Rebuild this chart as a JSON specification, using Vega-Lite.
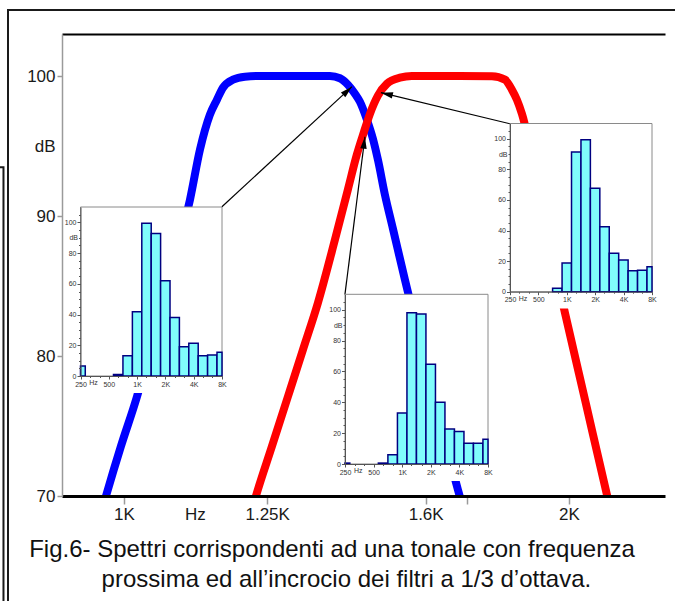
{
  "$schema": "https://vega.github.io/schema/vega-lite/v6.json",
  "width": 603,
  "height": 462,
  "autosize": {"type": "none"},
  "padding": {"left": 62, "top": 34, "right": 10, "bottom": 105},
  "background": "white",
  "config": {"view": {"stroke": null}, "axis": {"grid": false}},
  "datasets": {
    "curves": [
      {"band": "1.25K", "f": 966.3, "dB": 69.0},
      {"band": "1.25K", "f": 972.4, "dB": 70.0},
      {"band": "1.25K", "f": 995.3, "dB": 73.55},
      {"band": "1.25K", "f": 1020.5, "dB": 77.1},
      {"band": "1.25K", "f": 1041.3, "dB": 80.45},
      {"band": "1.25K", "f": 1062.6, "dB": 84.0},
      {"band": "1.25K", "f": 1086.1, "dB": 87.6},
      {"band": "1.25K", "f": 1108.3, "dB": 91.16},
      {"band": "1.25K", "f": 1125.7, "dB": 94.74},
      {"band": "1.25K", "f": 1143.3, "dB": 97.24},
      {"band": "1.25K", "f": 1155.9, "dB": 98.31},
      {"band": "1.25K", "f": 1166.7, "dB": 99.16},
      {"band": "1.25K", "f": 1185.1, "dB": 99.74},
      {"band": "1.25K", "f": 1207.4, "dB": 99.95},
      {"band": "1.25K", "f": 1236.0, "dB": 100.0},
      {"band": "1.25K", "f": 1378.3, "dB": 100.0},
      {"band": "1.25K", "f": 1400.0, "dB": 99.84},
      {"band": "1.25K", "f": 1417.5, "dB": 99.38},
      {"band": "1.25K", "f": 1433.1, "dB": 98.74},
      {"band": "1.25K", "f": 1444.3, "dB": 98.16},
      {"band": "1.25K", "f": 1460.1, "dB": 96.88},
      {"band": "1.25K", "f": 1473.8, "dB": 95.52},
      {"band": "1.25K", "f": 1485.3, "dB": 94.02},
      {"band": "1.25K", "f": 1501.6, "dB": 91.52},
      {"band": "1.25K", "f": 1520.5, "dB": 89.09},
      {"band": "1.25K", "f": 1549.1, "dB": 85.45},
      {"band": "1.25K", "f": 1610.7, "dB": 78.31},
      {"band": "1.25K", "f": 1682.5, "dB": 70.45},
      {"band": "1.25K", "f": 1695.6, "dB": 69.16},
      {"band": "1.6K", "f": 1220.6, "dB": 69.0},
      {"band": "1.6K", "f": 1228.3, "dB": 70.0},
      {"band": "1.6K", "f": 1259.3, "dB": 73.55},
      {"band": "1.6K", "f": 1291.0, "dB": 77.1},
      {"band": "1.6K", "f": 1321.6, "dB": 80.45},
      {"band": "1.6K", "f": 1352.8, "dB": 83.8},
      {"band": "1.6K", "f": 1389.1, "dB": 88.3},
      {"band": "1.6K", "f": 1417.5, "dB": 91.9},
      {"band": "1.6K", "f": 1437.5, "dB": 94.4},
      {"band": "1.6K", "f": 1453.3, "dB": 96.0},
      {"band": "1.6K", "f": 1467.0, "dB": 97.3},
      {"band": "1.6K", "f": 1485.3, "dB": 98.6},
      {"band": "1.6K", "f": 1506.3, "dB": 99.45},
      {"band": "1.6K", "f": 1537.1, "dB": 99.88},
      {"band": "1.6K", "f": 1566.1, "dB": 100.0},
      {"band": "1.6K", "f": 1687.7, "dB": 100.0},
      {"band": "1.6K", "f": 1774.0, "dB": 99.98},
      {"band": "1.6K", "f": 1810.3, "dB": 99.74},
      {"band": "1.6K", "f": 1830.1, "dB": 99.02},
      {"band": "1.6K", "f": 1844.4, "dB": 98.3},
      {"band": "1.6K", "f": 1858.8, "dB": 97.3},
      {"band": "1.6K", "f": 1920.7, "dB": 90.2},
      {"band": "1.6K", "f": 1987.6, "dB": 83.1},
      {"band": "1.6K", "f": 2053.7, "dB": 76.6},
      {"band": "1.6K", "f": 2122.0, "dB": 70.1},
      {"band": "1.6K", "f": 2131.9, "dB": 69.2}
    ],
    "arrows": [
      {"id": "a", "f0": 1164.9, "dB0": 90.66, "f1": 1426.4, "dB1": 99.24},
      {"id": "b", "f0": 1410.9, "dB0": 84.38, "f1": 1455.6, "dB1": 95.66},
      {"id": "c", "f0": 1824.4, "dB0": 96.59, "f1": 1492.3, "dB1": 98.81}
    ],
    "spectra": [
      {"spectrum": "a", "f": 250, "lo": 223, "hi": 281, "dB": 6.5},
      {"spectrum": "a", "f": 630, "lo": 561, "hi": 707, "dB": 1.0},
      {"spectrum": "a", "f": 800, "lo": 707, "hi": 891, "dB": 13.2},
      {"spectrum": "a", "f": 1000, "lo": 891, "hi": 1122, "dB": 41.8},
      {"spectrum": "a", "f": 1250, "lo": 1122, "hi": 1413, "dB": 99.5},
      {"spectrum": "a", "f": 1600, "lo": 1413, "hi": 1778, "dB": 92.8},
      {"spectrum": "a", "f": 2000, "lo": 1778, "hi": 2239, "dB": 62.0},
      {"spectrum": "a", "f": 2500, "lo": 2239, "hi": 2818, "dB": 38.0},
      {"spectrum": "a", "f": 3150, "lo": 2818, "hi": 3548, "dB": 19.1},
      {"spectrum": "a", "f": 4000, "lo": 3548, "hi": 4467, "dB": 21.3},
      {"spectrum": "a", "f": 5000, "lo": 4467, "hi": 5623, "dB": 13.2},
      {"spectrum": "a", "f": 6300, "lo": 5623, "hi": 7079, "dB": 13.7},
      {"spectrum": "a", "f": 8000, "lo": 7079, "hi": 8913, "dB": 15.4},
      {"spectrum": "b", "f": 250, "lo": 223, "hi": 281, "dB": 0.6},
      {"spectrum": "b", "f": 630, "lo": 561, "hi": 707, "dB": 0.6},
      {"spectrum": "b", "f": 800, "lo": 707, "hi": 891, "dB": 6.0},
      {"spectrum": "b", "f": 1000, "lo": 891, "hi": 1122, "dB": 33.0},
      {"spectrum": "b", "f": 1250, "lo": 1122, "hi": 1413, "dB": 98.0},
      {"spectrum": "b", "f": 1600, "lo": 1413, "hi": 1778, "dB": 97.2},
      {"spectrum": "b", "f": 2000, "lo": 1778, "hi": 2239, "dB": 64.7},
      {"spectrum": "b", "f": 2500, "lo": 2239, "hi": 2818, "dB": 40.0},
      {"spectrum": "b", "f": 3150, "lo": 2818, "hi": 3548, "dB": 22.7},
      {"spectrum": "b", "f": 4000, "lo": 3548, "hi": 4467, "dB": 21.0},
      {"spectrum": "b", "f": 5000, "lo": 4467, "hi": 5623, "dB": 13.4},
      {"spectrum": "b", "f": 6300, "lo": 5623, "hi": 7079, "dB": 13.4},
      {"spectrum": "b", "f": 8000, "lo": 7079, "hi": 8913, "dB": 16.0},
      {"spectrum": "c", "f": 800, "lo": 707, "hi": 891, "dB": 2.2},
      {"spectrum": "c", "f": 1000, "lo": 891, "hi": 1122, "dB": 18.7},
      {"spectrum": "c", "f": 1250, "lo": 1122, "hi": 1413, "dB": 91.3},
      {"spectrum": "c", "f": 1600, "lo": 1413, "hi": 1778, "dB": 99.3},
      {"spectrum": "c", "f": 2000, "lo": 1778, "hi": 2239, "dB": 67.6},
      {"spectrum": "c", "f": 2500, "lo": 2239, "hi": 2818, "dB": 42.4},
      {"spectrum": "c", "f": 3150, "lo": 2818, "hi": 3548, "dB": 25.2},
      {"spectrum": "c", "f": 4000, "lo": 3548, "hi": 4467, "dB": 20.7},
      {"spectrum": "c", "f": 5000, "lo": 4467, "hi": 5623, "dB": 13.7},
      {"spectrum": "c", "f": 6300, "lo": 5623, "hi": 7079, "dB": 14.1},
      {"spectrum": "c", "f": 8000, "lo": 7079, "hi": 8913, "dB": 16.3}
    ]
  },
  "layer": [
    {
      "data": {"values": [{}]},
      "layer": [
        {
          "mark": {"type": "rect", "filled": false, "stroke": "#1a1a1a", "strokeWidth": 2},
          "encoding": {
            "x": {"datum": 0, "type": "quantitative", "scale": {"domain": [0, 100], "range": [-54, 620]}, "axis": null},
            "x2": {"datum": 100},
            "y": {"datum": 0, "type": "quantitative", "scale": {"domain": [0, 100], "range": [-24, 576]}, "axis": null},
            "y2": {"datum": 100}
          }
        },
        {
          "mark": {"type": "rect", "filled": false, "stroke": "#1a1a1a", "strokeWidth": 2},
          "encoding": {
            "x": {"datum": -1.5, "type": "quantitative", "scale": {"domain": [0, 100], "range": [-54, 620]}, "axis": null},
            "x2": {"datum": -0.67},
            "y": {"datum": 26.2, "type": "quantitative", "scale": {"domain": [0, 100], "range": [-24, 576]}, "axis": null},
            "y2": {"datum": 100}
          }
        }
      ],
      "resolve": {"axis": {"x": "independent", "y": "independent"}}
    },
    {
      "layer": [
        {
          "data": {"name": "curves"},
          "transform": [{"filter": "datum.band == '1.25K'"}],
          "mark": {"type": "line", "color": "#0000ff", "strokeWidth": 8, "interpolate": "monotone", "clip": true},
          "encoding": {
            "x": {
              "field": "f", "type": "quantitative",
              "scale": {"type": "log", "domain": [908, 2323]},
              "axis": {
                "orient": "bottom", "zindex": 1,
                "values": [1000, 1117, 1250, 1600, 1706, 2000],
                "labelExpr": "datum.value == 1000 ? '1K' : datum.value == 1117 ? 'Hz' : datum.value == 1250 ? '1.25K' : datum.value == 1600 ? '1.6K' : datum.value == 2000 ? '2K' : ''",
                "tickOpacity": {"condition": {"test": "datum.value == 1117", "value": 0}, "value": 1},
                "labelFlush": false, "labelOverlap": false,
                "domainColor": "#000000", "domainWidth": 3,
                "tickColor": "#9a9a9a", "tickWidth": 1.5, "tickSize": 8,
                "labelFont": "Liberation Sans", "labelFontSize": 17, "labelColor": "#1a1a1a", "labelPadding": 2,
                "title": "Fig.6- Spettri corrispondenti ad una tonale con frequenza",
                "titleX": 269.5, "titleY": 60.7, "titleAlign": "center", "titleBaseline": "alphabetic",
                "titleFont": "Liberation Sans", "titleFontSize": 24, "titleFontWeight": "normal", "titleColor": "#111111"
              }
            },
            "y": {
              "field": "dB", "type": "quantitative",
              "scale": {"domain": [70, 103]},
              "axis": {
                "orient": "left", "zindex": 1,
                "values": [70, 80, 90, 95, 100],
                "labelExpr": "datum.value == 95 ? 'dB' : datum.label",
                "tickOpacity": {"condition": {"test": "datum.value == 95", "value": 0}, "value": 1},
                "domainColor": "#9a9a9a", "domainWidth": 1.5,
                "tickColor": "#9a9a9a", "tickWidth": 1.5, "tickSize": 5,
                "labelFont": "Liberation Sans", "labelFontSize": 17, "labelColor": "#1a1a1a", "labelPadding": 2,
                "title": null
              }
            }
          }
        },
        {
          "data": {"name": "curves"},
          "transform": [{"filter": "datum.band == '1.6K'"}],
          "mark": {"type": "line", "color": "#ff0000", "strokeWidth": 8, "interpolate": "monotone", "clip": true},
          "encoding": {
            "x": {"field": "f", "type": "quantitative", "scale": {"type": "log", "domain": [908, 2323]}, "axis": null},
            "y": {"field": "dB", "type": "quantitative", "scale": {"domain": [70, 103]}, "axis": null}
          }
        },
        {
          "data": {"name": "arrows"},
          "mark": {"type": "rule", "color": "#000000", "strokeWidth": 1.2},
          "encoding": {
            "x": {
              "field": "f0", "type": "quantitative",
              "scale": {"type": "log", "domain": [908, 2323]},
              "axis": {
                "orient": "top", "zindex": 1, "ticks": false, "labels": false,
                "domainColor": "#000000", "domainWidth": 2,
                "title": "prossima ed all’incrocio dei filtri a 1/3 d’ottava.",
                "titleX": 283.9, "titleY": 552, "titleAlign": "center", "titleBaseline": "alphabetic",
                "titleFont": "Liberation Sans", "titleFontSize": 24, "titleFontWeight": "normal", "titleColor": "#111111"
              }
            },
            "x2": {"field": "f1"},
            "y": {"field": "dB0", "type": "quantitative", "scale": {"domain": [70, 103]}, "axis": null},
            "y2": {"field": "dB1"}
          }
        },
        {
          "data": {"name": "arrows"},
          "transform": [{"filter": "datum.id == 'a'"}],
          "mark": {"type": "point", "shape": "M0,0L-0.27,1L0.27,1Z", "filled": true, "color": "#000000", "opacity": 1, "size": 576, "angle": 47.3, "strokeWidth": 0},
          "encoding": {
            "x": {"field": "f1", "type": "quantitative", "scale": {"type": "log", "domain": [908, 2323]}, "axis": null},
            "y": {"field": "dB1", "type": "quantitative", "scale": {"domain": [70, 103]}, "axis": null}
          }
        },
        {
          "data": {"name": "arrows"},
          "transform": [{"filter": "datum.id == 'b'"}],
          "mark": {"type": "point", "shape": "M0,0L-0.27,1L0.27,1Z", "filled": true, "color": "#000000", "opacity": 1, "size": 576, "angle": 7.2, "strokeWidth": 0},
          "encoding": {
            "x": {"field": "f1", "type": "quantitative", "scale": {"type": "log", "domain": [908, 2323]}, "axis": null},
            "y": {"field": "dB1", "type": "quantitative", "scale": {"domain": [70, 103]}, "axis": null}
          }
        },
        {
          "data": {"name": "arrows"},
          "transform": [{"filter": "datum.id == 'c'"}],
          "mark": {"type": "point", "shape": "M0,0L-0.27,1L0.27,1Z", "filled": true, "color": "#000000", "opacity": 1, "size": 576, "angle": 283.5, "strokeWidth": 0},
          "encoding": {
            "x": {"field": "f1", "type": "quantitative", "scale": {"type": "log", "domain": [908, 2323]}, "axis": null},
            "y": {"field": "dB1", "type": "quantitative", "scale": {"domain": [70, 103]}, "axis": null}
          }
        }
      ],
      "resolve": {"axis": {"x": "independent", "y": "independent"}}
    },
    {
      "layer": [
        {
          "data": {"values": [{}]},
          "mark": {"type": "rect", "fill": "#ffffff", "strokeWidth": 0},
          "encoding": {
            "x": {"datum": 250, "type": "quantitative", "scale": {"type": "log", "domain": [250, 8000], "range": [18.5, 160], "clamp": true}, "axis": null},
            "x2": {"datum": 8000},
            "y": {"datum": -11, "type": "quantitative", "scale": {"domain": [0, 110], "range": [342, 173]}, "axis": null},
            "y2": {"datum": 110}
          }
        },
        {
          "data": {"values": [{}]},
          "mark": {"type": "rect", "filled": false, "stroke": "#8a8a8a", "strokeWidth": 1},
          "encoding": {
            "x": {"datum": 250, "type": "quantitative", "scale": {"type": "log", "domain": [250, 8000], "range": [18.5, 160], "clamp": true}, "axis": null},
            "x2": {"datum": 8000},
            "y": {"datum": 0, "type": "quantitative", "scale": {"domain": [0, 110], "range": [342, 173]}, "axis": null},
            "y2": {"datum": 110}
          }
        },
        {
          "data": {"name": "spectra"},
          "transform": [{"filter": "datum.spectrum == 'a'"}],
          "mark": {"type": "rect", "fill": "#80fcfc", "stroke": "#000080", "strokeWidth": 1.5},
          "encoding": {
            "x": {
              "field": "lo", "type": "quantitative",
              "scale": {"type": "log", "domain": [250, 8000], "range": [18.5, 160], "clamp": true},
              "axis": {
                "orient": "bottom", "offset": -120, "zindex": 1,
                "values": [250, 315, 340, 400, 500, 630, 800, 1000, 1250, 1600, 2000, 2500, 3150, 4000, 5000, 6300, 8000],
                "labelExpr": "datum.value == 250 ? '250' : datum.value == 340 ? 'Hz' : datum.value == 500 ? '500' : datum.value == 1000 ? '1K' : datum.value == 2000 ? '2K' : datum.value == 4000 ? '4K' : datum.value == 8000 ? '8K' : ''",
                "tickSize": {"condition": {"test": "indexof([250, 500, 1000, 2000, 4000, 8000], datum.value) >= 0", "value": 3}, "value": 1.5},
                "tickOpacity": {"condition": {"test": "datum.value == 340", "value": 0}, "value": 1},
                "labelFlush": false, "labelOverlap": false,
                "domainColor": "#555555", "tickColor": "#555555",
                "labelFont": "Liberation Sans", "labelFontSize": 7, "labelColor": "#333333", "labelPadding": 1,
                "title": null
              }
            },
            "x2": {"field": "hi"},
            "y": {
              "field": "dB", "type": "quantitative",
              "scale": {"domain": [0, 110], "range": [342, 173]},
              "axis": {
                "orient": "left", "offset": -18.5, "zindex": 1,
                "values": [0, 5, 10, 15, 20, 25, 30, 35, 40, 45, 50, 55, 60, 65, 70, 75, 80, 85, 90, 95, 100, 105],
                "labelExpr": "datum.value == 90 ? 'dB' : datum.value % 20 == 0 ? datum.label : ''",
                "tickSize": {"condition": {"test": "datum.value % 20 == 0", "value": 3.5}, "value": 2},
                "labelOverlap": false,
                "domainColor": "#555555", "tickColor": "#555555",
                "labelFont": "Liberation Sans", "labelFontSize": 7, "labelColor": "#333333", "labelPadding": 1,
                "title": null
              }
            },
            "y2": {"datum": 0}
          }
        }
      ],
      "resolve": {"axis": {"x": "independent", "y": "independent"}}
    },
    {
      "layer": [
        {
          "data": {"values": [{}]},
          "mark": {"type": "rect", "fill": "#ffffff", "strokeWidth": 0},
          "encoding": {
            "x": {"datum": 250, "type": "quantitative", "scale": {"type": "log", "domain": [250, 8000], "range": [283, 426], "clamp": true}, "axis": null},
            "x2": {"datum": 8000},
            "y": {"datum": -11, "type": "quantitative", "scale": {"domain": [0, 110], "range": [430, 260.3]}, "axis": null},
            "y2": {"datum": 110}
          }
        },
        {
          "data": {"values": [{}]},
          "mark": {"type": "rect", "filled": false, "stroke": "#8a8a8a", "strokeWidth": 1},
          "encoding": {
            "x": {"datum": 250, "type": "quantitative", "scale": {"type": "log", "domain": [250, 8000], "range": [283, 426], "clamp": true}, "axis": null},
            "x2": {"datum": 8000},
            "y": {"datum": 0, "type": "quantitative", "scale": {"domain": [0, 110], "range": [430, 260.3]}, "axis": null},
            "y2": {"datum": 110}
          }
        },
        {
          "data": {"name": "spectra"},
          "transform": [{"filter": "datum.spectrum == 'b'"}],
          "mark": {"type": "rect", "fill": "#80fcfc", "stroke": "#000080", "strokeWidth": 1.5},
          "encoding": {
            "x": {
              "field": "lo", "type": "quantitative",
              "scale": {"type": "log", "domain": [250, 8000], "range": [283, 426], "clamp": true},
              "axis": {
                "orient": "bottom", "offset": -32, "zindex": 1,
                "values": [250, 315, 340, 400, 500, 630, 800, 1000, 1250, 1600, 2000, 2500, 3150, 4000, 5000, 6300, 8000],
                "labelExpr": "datum.value == 250 ? '250' : datum.value == 340 ? 'Hz' : datum.value == 500 ? '500' : datum.value == 1000 ? '1K' : datum.value == 2000 ? '2K' : datum.value == 4000 ? '4K' : datum.value == 8000 ? '8K' : ''",
                "tickSize": {"condition": {"test": "indexof([250, 500, 1000, 2000, 4000, 8000], datum.value) >= 0", "value": 3}, "value": 1.5},
                "tickOpacity": {"condition": {"test": "datum.value == 340", "value": 0}, "value": 1},
                "labelFlush": false, "labelOverlap": false,
                "domainColor": "#555555", "tickColor": "#555555",
                "labelFont": "Liberation Sans", "labelFontSize": 7, "labelColor": "#333333", "labelPadding": 1,
                "title": null
              }
            },
            "x2": {"field": "hi"},
            "y": {
              "field": "dB", "type": "quantitative",
              "scale": {"domain": [0, 110], "range": [430, 260.3]},
              "axis": {
                "orient": "left", "offset": -283, "zindex": 1,
                "values": [0, 5, 10, 15, 20, 25, 30, 35, 40, 45, 50, 55, 60, 65, 70, 75, 80, 85, 90, 95, 100, 105],
                "labelExpr": "datum.value == 90 ? 'dB' : datum.value % 20 == 0 ? datum.label : ''",
                "tickSize": {"condition": {"test": "datum.value % 20 == 0", "value": 3.5}, "value": 2},
                "labelOverlap": false,
                "domainColor": "#555555", "tickColor": "#555555",
                "labelFont": "Liberation Sans", "labelFontSize": 7, "labelColor": "#333333", "labelPadding": 1,
                "title": null
              }
            },
            "y2": {"datum": 0}
          }
        }
      ],
      "resolve": {"axis": {"x": "independent", "y": "independent"}}
    },
    {
      "layer": [
        {
          "data": {"values": [{}]},
          "mark": {"type": "rect", "fill": "#ffffff", "strokeWidth": 0},
          "encoding": {
            "x": {"datum": 250, "type": "quantitative", "scale": {"type": "log", "domain": [250, 8000], "range": [448, 590], "clamp": true}, "axis": null},
            "x2": {"datum": 8000},
            "y": {"datum": -11, "type": "quantitative", "scale": {"domain": [0, 110], "range": [257.7, 89.5]}, "axis": null},
            "y2": {"datum": 110}
          }
        },
        {
          "data": {"values": [{}]},
          "mark": {"type": "rect", "filled": false, "stroke": "#8a8a8a", "strokeWidth": 1},
          "encoding": {
            "x": {"datum": 250, "type": "quantitative", "scale": {"type": "log", "domain": [250, 8000], "range": [448, 590], "clamp": true}, "axis": null},
            "x2": {"datum": 8000},
            "y": {"datum": 0, "type": "quantitative", "scale": {"domain": [0, 110], "range": [257.7, 89.5]}, "axis": null},
            "y2": {"datum": 110}
          }
        },
        {
          "data": {"name": "spectra"},
          "transform": [{"filter": "datum.spectrum == 'c'"}],
          "mark": {"type": "rect", "fill": "#80fcfc", "stroke": "#000080", "strokeWidth": 1.5},
          "encoding": {
            "x": {
              "field": "lo", "type": "quantitative",
              "scale": {"type": "log", "domain": [250, 8000], "range": [448, 590], "clamp": true},
              "axis": {
                "orient": "bottom", "offset": -204.3, "zindex": 1,
                "values": [250, 315, 340, 400, 500, 630, 800, 1000, 1250, 1600, 2000, 2500, 3150, 4000, 5000, 6300, 8000],
                "labelExpr": "datum.value == 250 ? '250' : datum.value == 340 ? 'Hz' : datum.value == 500 ? '500' : datum.value == 1000 ? '1K' : datum.value == 2000 ? '2K' : datum.value == 4000 ? '4K' : datum.value == 8000 ? '8K' : ''",
                "tickSize": {"condition": {"test": "indexof([250, 500, 1000, 2000, 4000, 8000], datum.value) >= 0", "value": 3}, "value": 1.5},
                "tickOpacity": {"condition": {"test": "datum.value == 340", "value": 0}, "value": 1},
                "labelFlush": false, "labelOverlap": false,
                "domainColor": "#555555", "tickColor": "#555555",
                "labelFont": "Liberation Sans", "labelFontSize": 7, "labelColor": "#333333", "labelPadding": 1,
                "title": null
              }
            },
            "x2": {"field": "hi"},
            "y": {
              "field": "dB", "type": "quantitative",
              "scale": {"domain": [0, 110], "range": [257.7, 89.5]},
              "axis": {
                "orient": "left", "offset": -448, "zindex": 1,
                "values": [0, 5, 10, 15, 20, 25, 30, 35, 40, 45, 50, 55, 60, 65, 70, 75, 80, 85, 90, 95, 100, 105],
                "labelExpr": "datum.value == 90 ? 'dB' : datum.value % 20 == 0 ? datum.label : ''",
                "tickSize": {"condition": {"test": "datum.value % 20 == 0", "value": 3.5}, "value": 2},
                "labelOverlap": false,
                "domainColor": "#555555", "tickColor": "#555555",
                "labelFont": "Liberation Sans", "labelFontSize": 7, "labelColor": "#333333", "labelPadding": 1,
                "title": null
              }
            },
            "y2": {"datum": 0}
          }
        }
      ],
      "resolve": {"axis": {"x": "independent", "y": "independent"}}
    }
  ],
  "resolve": {
    "scale": {"x": "independent", "y": "independent"},
    "axis": {"x": "independent", "y": "independent"}
  }
}
